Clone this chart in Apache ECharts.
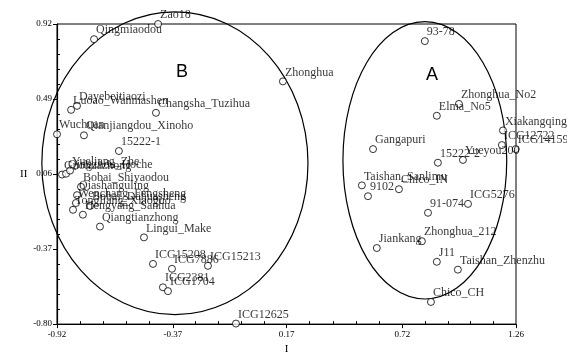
<!DOCTYPE html>
<html>
<head>
<meta charset="utf-8">
<script src="https://cdn.jsdelivr.net/npm/echarts@6/dist/echarts.min.js"></script>
<style>
html, body { margin: 0; padding: 0; background: #fff; }
#chart { width: 567px; height: 360px; }
</style>
</head>
<body>
<div id="chart"></div>
<script>
// cultivar scores on the first two components
var names = [
    'Zao18', 'Qingmiaodou', 'Zhonghua', 'Dayebeitiaozi', 'Luoao_Wanmashen', 'Changsha_Tuzihua',
    'Wuchuan', 'Qianjiangdou_Xinoho', '15222-1', 'Guohuazhong', 'Qingzhou_Hoche', 'Yueliang_Zhe',
    'Bobai_Shiyaodou', 'Qiashanguling', 'Bobai_Dahuasheng', 'Wenchang_Fengsheng', 'Tongliang_Xiaoguo',
    'Hengyang_Sanhua', 'Qiangtianzhong', 'Lingui_Make', 'ICG15208', 'ICG7886', 'ICG15213',
    'ICG2381', 'ICG1704', 'ICG12625',
    '93-78', 'Zhonghua_No2', 'Elma_No5', 'Xiakangqing', 'ICG12722', 'ICG14159', 'Yueyou200',
    '15222-2', 'Gangapuri', 'Taishan_Sanlimu', '9102', 'Chico_IN', 'ICG5276', '91-074',
    'Zhonghua_212', 'Jiankang', 'J11', 'Taishan_Zhenzhu', 'Chico_CH'
];
var xs = [
    -0.44, -0.744, 0.153, -0.825, -0.853, -0.45,
    -0.92, -0.792, -0.626, -0.896, -0.877, -0.858,
    -0.806, -0.825, -0.763, -0.83, -0.844,
    -0.797, -0.716, -0.507, -0.464, -0.374, -0.203,
    -0.417, -0.393, -0.07,
    0.827, 0.989, 0.884, 1.198, 1.193, 1.259, 1.008,
    0.889, 0.581, 0.528, 0.557, 0.704, 1.032, 0.842,
    0.813, 0.599, 0.884, 0.984, 0.856
];
var ys = [
    0.92, 0.833, 0.591, 0.451, 0.428, 0.411,
    0.288, 0.282, 0.192, 0.057, 0.062, 0.08,
    -0.013, -0.061, -0.123, -0.106, -0.145,
    -0.173, -0.241, -0.303, -0.455, -0.483, -0.466,
    -0.589, -0.611, -0.797,
    0.822, 0.462, 0.394, 0.31, 0.226, 0.203, 0.141,
    0.125, 0.203, -0.005, -0.067, -0.027, -0.111, -0.162,
    -0.325, -0.364, -0.443, -0.488, -0.673
];

var xTicks = [-0.92, -0.37, 0.17, 0.72, 1.26];
var yTicks = [-0.80, -0.37, 0.06, 0.49, 0.92];

// group ellipses: centre, radii, letter position
var groupNames = ['A', 'B'];
var groupCx = [0.827, -0.36];
var groupCy = [0.139, 0.122];
var groupRx = [0.389, 0.632];
var groupRy = [0.795, 0.868];
var groupLabelX = [0.861, -0.326];
var groupLabelY = [0.625, 0.642];

function minorTicks(ticks) {
    var out = [];
    for (var i = 0; i < ticks.length - 1; i++) {
        var step = (ticks[i + 1] - ticks[i]) / 5;
        for (var k = 1; k < 5; k++) out.push(ticks[i] + step * k);
    }
    return out;
}

var serif = '"Liberation Serif", "Times New Roman", serif';
var chart = echarts.init(document.getElementById('chart'));

var points = names.map(function(n, i) {
    return { name: n, value: [xs[i], ys[i]] };
});
var groups = groupNames.map(function(n, i) {
    return [groupCx[i], groupCy[i], groupRx[i], groupRy[i], groupLabelX[i], groupLabelY[i]];
});

var xMin = xTicks[0], xMax = xTicks[xTicks.length - 1];
var yMin = yTicks[0], yMax = yTicks[yTicks.length - 1];

chart.setOption({
    animation: false,
    grid: {
        left: 57, right: 51, top: 24, bottom: 30,
        show: true, borderColor: '#000', borderWidth: 1
    },
    xAxis: [{
        type: 'value', min: xMin, max: xMax,
        name: 'I', nameLocation: 'middle', nameGap: 17,
        nameTextStyle: { fontFamily: serif, fontSize: 11, color: '#000' },
        axisLine: { onZero: false, lineStyle: { color: '#000', width: 1.2 } },
        axisTick: { show: true, length: 4, customValues: xTicks, lineStyle: { color: '#000' } },
        axisLabel: {
            customValues: xTicks, margin: 6, fontFamily: serif, fontSize: 9, color: '#000',
            formatter: function(v) { return v.toFixed(2); }
        },
        splitLine: { show: false }
    }, {
        type: 'value', min: xMin, max: xMax, position: 'bottom',
        axisLine: { show: false, onZero: false },
        axisTick: { show: true, inside: true, length: 3, customValues: minorTicks(xTicks), lineStyle: { color: '#000' } },
        axisLabel: { show: false },
        splitLine: { show: false }
    }],
    yAxis: [{
        type: 'value', min: yMin, max: yMax,
        name: 'II', nameLocation: 'middle', nameGap: 19, nameRotate: 0,
        nameTextStyle: { fontFamily: serif, fontSize: 11, color: '#000' },
        axisLine: { show: true, onZero: false, lineStyle: { color: '#000', width: 1.2 } },
        axisTick: { show: true, length: 4, customValues: yTicks, lineStyle: { color: '#000' } },
        axisLabel: {
            customValues: yTicks, margin: 5, fontFamily: serif, fontSize: 9, color: '#000',
            formatter: function(v) { return v.toFixed(2); }
        },
        splitLine: { show: false }
    }, {
        type: 'value', min: yMin, max: yMax, position: 'left',
        axisLine: { show: false, onZero: false },
        axisTick: { show: true, inside: true, length: 3, customValues: minorTicks(yTicks), lineStyle: { color: '#000' } },
        axisLabel: { show: false },
        splitLine: { show: false }
    }],
    series: [{
        type: 'custom',
        z: 1,
        silent: true,
        data: groups,
        renderItem: function(params, api) {
            var c = api.coord([api.value(0), api.value(1)]);
            var s = api.size([api.value(2), api.value(3)]);
            var t = api.coord([api.value(4), api.value(5)]);
            return {
                type: 'group',
                children: [{
                    type: 'ellipse',
                    shape: { cx: c[0], cy: c[1], rx: s[0], ry: s[1] },
                    style: { fill: 'none', stroke: '#000', lineWidth: 1.2 }
                }, {
                    type: 'text',
                    x: t[0], y: t[1],
                    style: {
                        text: groupNames[params.dataIndex],
                        font: '18px "Liberation Sans", Arial, sans-serif',
                        fill: '#000', align: 'center', verticalAlign: 'middle'
                    }
                }]
            };
        }
    }, {
        type: 'scatter',
        z: 3,
        symbol: 'circle',
        symbolSize: 7,
        itemStyle: { color: '#fff', borderColor: '#000', borderWidth: 1 },
        label: {
            show: true, position: 'right', distance: 0, offset: [-2, -9],
            formatter: '{b}', fontFamily: serif, fontSize: 12, color: '#000'
        },
        data: points
    }]
});
</script>
</body>
</html>
